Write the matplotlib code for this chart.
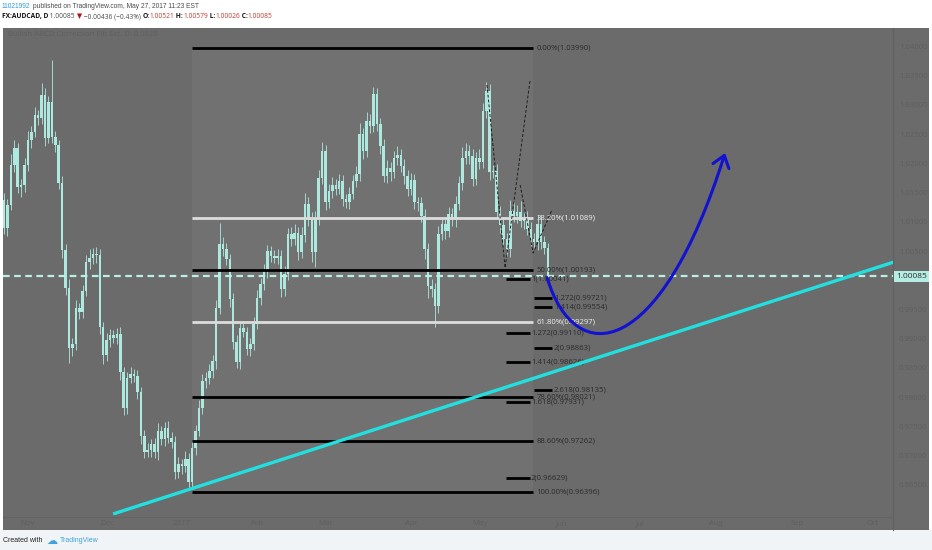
import matplotlib
matplotlib.use("Agg")
import matplotlib.pyplot as plt
from matplotlib.path import Path
from matplotlib.patches import FancyArrowPatch, Rectangle
from matplotlib.lines import Line2D
import matplotlib.transforms as mtransforms

""" data read off the chart (AUDCAD daily) """

first_open = 1.01391
closes = [
    1.00912, 1.01306, 1.01990, 1.02280, 1.01613, 1.01648, 1.01990, 1.02417, 1.02554, 1.02845,
    1.02793, 1.03187, 1.02451, 1.03067, 1.02468, 1.02332, 1.01682, 1.00536, 0.99886, 0.98860,
    0.98929, 0.99544, 0.99476, 0.99835, 1.00331, 1.00399, 1.00468, 1.00451, 0.99219, 0.98741,
    0.98997, 0.99083, 0.99031, 0.99100, 0.98450, 0.97834, 0.98347, 0.98416, 0.98381, 0.98108,
    0.97355, 0.97082, 0.97116, 0.97219, 0.97082, 0.97441, 0.97304, 0.97492, 0.97321, 0.97253,
    0.96740, 0.96877, 0.96842, 0.96962, 0.96569, 0.97150, 0.97441, 0.97834, 0.98296, 0.98347,
    0.98467, 0.98638, 0.99544, 1.00639, 1.00553, 1.00382, 0.99698, 0.98963, 0.98621, 0.99202,
    0.99134, 0.98843, 0.98929, 0.99271, 0.99715, 0.99955, 1.00177, 1.00519, 1.00433, 1.00399,
    1.00433, 0.99869, 1.00126, 1.00810, 1.00724, 1.00827, 1.00502, 1.00793, 1.01323, 1.01083,
    1.00502, 1.01083, 1.01767, 1.02229, 1.01357, 1.01545, 1.01648, 1.01579, 1.01716, 1.01408,
    1.01357, 1.01494, 1.01716, 1.01836, 1.02520, 1.02229, 1.02742, 1.02656, 1.03204, 1.02691,
    1.02314, 1.01801, 1.01938, 1.01870, 1.02109, 1.02161, 1.01972, 1.01801, 1.01579, 1.01733,
    1.01357, 1.01340, 1.01117, 1.00553, 0.99920, 0.99869, 0.99578, 1.00810, 1.00981, 1.00861,
    1.01152, 1.01066, 1.01323, 1.01682, 1.02109, 1.02229, 1.02143, 1.01750, 1.02109, 1.02041,
    1.02913, 1.03255, 1.01870, 1.01887, 1.01186, 1.00964, 1.00724, 1.00553, 1.01203, 1.01117,
    1.01186, 1.01032, 1.01066, 1.00895, 1.00724, 1.00673, 1.00981, 1.00673, 1.00570, 1.00085,
]
# wick sizes in pips
wick_up = [
    12, 10, 18, 14, 8, 10, 12, 15, 10, 14, 8, 20, 12, 10, 72, 10, 8, 12, 10, 15,
    10, 14, 8, 10, 12, 15, 10, 12, 10, 8, 12, 10, 8, 10, 12, 8, 10, 12, 8, 10,
    8, 10, 12, 8, 10, 14, 8, 10, 12, 10, 10, 12, 8, 14, 10, 12, 10, 14, 12, 10,
    12, 10, 14, 36, 12, 10, 8, 10, 12, 10, 12, 8, 10, 12, 14, 10, 12, 10, 8, 10,
    12, 10, 14, 10, 12, 15, 10, 14, 18, 12, 10, 12, 14, 16, 10, 12, 14, 10, 12, 10,
    8, 12, 10, 14, 18, 10, 16, 12, 12, 10, 10, 12, 14, 10, 12, 16, 10, 12, 10, 12,
    10, 8, 10, 12, 10, 12, 10, 14, 12, 10, 12, 10, 14, 12, 18, 14, 10, 12, 10, 16,
    14, 15, 12, 10, 12, 10, 14, 10, 18, 16, 12, 18, 10, 14, 12, 10, 16, 12, 10, 8,
]
wick_dn = [
    10, 14, 8, 12, 10, 18, 12, 10, 14, 8, 12, 10, 14, 8, 10, 12, 10, 14, 12, 26,
    14, 10, 12, 10, 8, 12, 10, 14, 12, 16, 10, 12, 8, 10, 14, 12, 10, 8, 10, 12,
    14, 10, 8, 12, 10, 14, 10, 12, 8, 10, 12, 10, 14, 10, 14, 10, 12, 8, 10, 12,
    10, 12, 14, 10, 12, 10, 14, 12, 10, 12, 8, 10, 12, 10, 8, 12, 10, 12, 10, 8,
    10, 14, 12, 10, 12, 10, 14, 10, 12, 14, 18, 26, 12, 10, 14, 10, 12, 10, 8, 12,
    10, 12, 8, 10, 12, 14, 10, 12, 10, 12, 14, 10, 12, 16, 10, 12, 10, 14, 12, 10,
    12, 14, 10, 18, 20, 14, 36, 12, 10, 14, 10, 12, 14, 10, 12, 10, 14, 12, 10, 12,
    10, 12, 14, 10, 12, 14, 10, 12, 14, 10, 12, 10, 14, 10, 12, 10, 14, 12, 10, 12,
]
last_price = 1.00085

month_pos = [6.7, 30, 52, 74, 94, 119, 139, 163, 186, 208, 232, 254]
month_labels = ["Nov", "Dec", "2017", "Feb", "Mar", "Apr", "May", "Jun", "Jul", "Aug", "Sep", "Oct"]
price_ticks = [1.040, 1.035, 1.030, 1.025, 1.020, 1.015, 1.010, 1.005,
               0.995, 0.990, 0.985, 0.980, 0.975, 0.970, 0.965]

# fib retracement (bars 55 -> 154.7)
fib_bars = [55.0, 154.7]
fib_pct = [0.0, 38.2, 50.0, 61.8, 78.6, 88.6, 100.0]
fib_price = [1.03990, 1.01089, 1.00193, 0.99297, 0.98021, 0.97262, 0.96396]
fib_white = [False, True, False, True, False, False, False]

# ABCD extension levels, two columns
ext_left_bars = [146.8, 153.8]
ext_left_name = ["1", "1.272", "1.414", "1.618", "2"]
ext_left_price = [1.00041, 0.99110, 0.98626, 0.97931, 0.96629]
ext_right_bars = [155.0, 160.2]
ext_right_name = ["1.272", "1.414", "2", "2.618"]
ext_right_price = [0.99721, 0.99554, 0.98863, 0.98135]

trend_bars = [31.9, 260.2]
trend_price = [0.9602, 1.0033]

abcd_bars = [141.2, 146.5, 153.8]
abcd_price = [1.03357, 1.00228, 1.03443]
abcd2_bars = [150.9, 154.7, 160.2]
abcd2_price = [1.01647, 1.00485, 1.01220]

curve_bars = [158.8, 167.0, 191.8, 210.8]
curve_price = [1.00056, 0.98483, 0.98654, 1.02194]

""" figure """

W, H = 932, 550
fig = plt.figure(figsize=(W / 100, H / 100), dpi=100)
fig.patch.set_facecolor("white")


def fx(px):
    return px / W


def fy(py):
    return 1 - py / H


FONT = ["Open Sans", "DejaVu Sans"]
NARROW = ["Liberation Sans Narrow", "Liberation Sans", "DejaVu Sans"]
BG = "#6b6b6b"
FAINT = "#5f5f5f"
CANDLE = "#aee9df"
LBL = 5.6

# panel backgrounds (behind the axes)
fig.patches.append(Rectangle((fx(3), fy(530)), fx(926), 502 / H, transform=fig.transFigure,
                             facecolor=BG, edgecolor="none", zorder=-5))
fig.patches.append(Rectangle((0, 0), 1, 20 / H, transform=fig.transFigure,
                             facecolor="#f1f4f6", edgecolor="none", zorder=-5))
fig.lines.append(Line2D([fx(893), fx(893)], [fy(28), fy(530)], transform=fig.transFigure,
                        color="#616161", lw=0.8, zorder=-4))
fig.lines.append(Line2D([fx(3), fx(893)], [fy(517), fy(517)], transform=fig.transFigure,
                        color="#636363", lw=0.8, zorder=-4))

ax = fig.add_axes([fx(3), fy(517), fx(890), 489 / H])
ax.set_facecolor("none")
for s in ax.spines.values():
    s.set_visible(False)
ax.set_xticks([])
ax.set_yticks([])
ax.set_xlim(-0.3, 259.9)
ax.set_ylim(0.95968, 1.04332)

# fib background
ax.add_patch(Rectangle((fib_bars[0], fib_price[-1]), fib_bars[1] - fib_bars[0],
                       fib_price[0] - fib_price[-1], facecolor="#717171", edgecolor="none", zorder=0))

# candles
opens = [first_open] + closes[:-1]
for i, (o, c) in enumerate(zip(opens, closes)):
    top = max(o, c)
    bot = min(o, c)
    ax.vlines(i, bot - wick_dn[i] * 0.0001, top + wick_up[i] * 0.0001,
              color=CANDLE, lw=0.7, alpha=0.85, zorder=2)
    ax.bar(i, max(top - bot, 0.00008), bottom=bot, width=0.74, color=CANDLE,
           linewidth=0, zorder=2)

# last price line
ax.axhline(last_price, color="#b9efe6", lw=1.6, ls=(0, (3, 2)), zorder=3)

# fib retracement levels
for pct, p, wh in zip(fib_pct, fib_price, fib_white):
    ax.plot(fib_bars, [p, p], color="#dcdcdc" if wh else "black", lw=2, zorder=3,
            solid_capstyle="butt")
    ax.text(fib_bars[1] + 0.9, p, f"{pct:.2f}%({p:.5f})", fontsize=LBL, family=FONT,
            color="#f2f2f2" if wh else "#2b2b2b", va="center", ha="left", zorder=4)

for name, p in zip(ext_left_name, ext_left_price):
    ax.plot(ext_left_bars, [p, p], color="black", lw=2, zorder=3, solid_capstyle="butt")
    ax.text(ext_left_bars[1] + 0.3, p, f"{name}({p:.5f})", fontsize=LBL, family=FONT,
            color="#2b2b2b", va="center", ha="left", zorder=4)
for name, p in zip(ext_right_name, ext_right_price):
    ax.plot(ext_right_bars, [p, p], color="black", lw=2, zorder=3, solid_capstyle="butt")
    ax.text(ext_right_bars[1] + 0.6, p, f"{name}({p:.5f})", fontsize=LBL, family=FONT,
            color="#2b2b2b", va="center", ha="left", zorder=4)

# ABCD pattern dashes
ax.plot(abcd_bars, abcd_price, color="#1e1e1e", lw=0.7, ls=(0, (3, 2)), zorder=4)
ax.plot(abcd2_bars, abcd2_price, color="#1e1e1e", lw=0.7, ls=(0, (3, 2)), zorder=4)

# trendline
ax.plot(trend_bars, trend_price, color="#22e0e0", lw=2.4, zorder=5, solid_capstyle="butt")

# projected path
curve = Path(list(zip(curve_bars, curve_price)),
             [Path.MOVETO, Path.CURVE4, Path.CURVE4, Path.CURVE4])
arrow = FancyArrowPatch(path=curve, arrowstyle="->,head_length=0.4,head_width=0.3",
                        mutation_scale=20, color="#1212d0", lw=2.2, zorder=6)
ax.add_patch(arrow)

# price scale
blend = mtransforms.blended_transform_factory(fig.transFigure, ax.transData)
for p in price_ticks:
    ax.text(fx(899), p, f"{p:.5f}", transform=blend, fontsize=LBL, family=FONT,
            color=FAINT, va="center", ha="left", clip_on=False)
ax.text(fx(896), last_price, "1.00085", transform=blend, fontsize=6.0, family=FONT,
        color="#2d2d2d", va="center", ha="left", clip_on=False,
        bbox=dict(boxstyle="square,pad=0.25", facecolor="#b5ece3", edgecolor="none"))

# time scale
tblend = mtransforms.blended_transform_factory(ax.transData, fig.transFigure)
for pos, lab in zip(month_pos, month_labels):
    ax.text(pos, fy(523.5), lab, transform=tblend, fontsize=LBL, family=FONT,
            color=FAINT, va="center", ha="center", clip_on=False)

fig.text(fx(8), fy(34), "Bullish ABCD Correction Fib Ext. D: 0.9828", fontsize=LBL,
         family=FONT, color=FAINT, va="center", ha="left")

# header text
fig.canvas.draw()
renderer = fig.canvas.get_renderer()


def row(pieces, x0, y, size, fam):
    x = x0
    for s, col, bold in pieces:
        t = fig.text(fx(x), fy(y), s, color=col, fontsize=size, family=fam,
                     fontweight="bold" if bold else "normal", va="center", ha="left")
        x += t.get_window_extent(renderer=renderer).width
    return x


GREY = "#4a4a4a"
RED = "#c0392b"
row([("11021992", "#2f9ae0", False),
     (" published on TradingView.com, May 27, 2017 11:23 EST", GREY, False)], 2, 6.5, 4.8, NARROW)
row([("FX:AUDCAD, D", "#111111", True), (" 1.00085 ", GREY, False), ("▼", "#b01010", False),
     (" \u22120.00436 (\u22120.43%) ", GREY, False),
     ("O:", "#111111", True), ("1.00521", RED, False),
     (" H:", "#111111", True), ("1.00579", RED, False),
     (" L:", "#111111", True), ("1.00026", RED, False),
     (" C:", "#111111", True), ("1.00085", RED, False)], 2, 16.5, 4.8, FONT)

# footer
xe = row([("Created with", "#222222", False)], 3, 541, 5.0, NARROW)
fig.text(fx(xe + 4), fy(540.5), "\u2601", fontsize=8, family=["DejaVu Sans"], color="#3ea3dc",
         va="center", ha="left")
fig.text(fx(xe + 17), fy(541), "TradingView", fontsize=5.0, family=NARROW, color="#3ea3dc",
         va="center", ha="left")

fig.savefig("out.png", dpi=100, facecolor=fig.get_facecolor())
